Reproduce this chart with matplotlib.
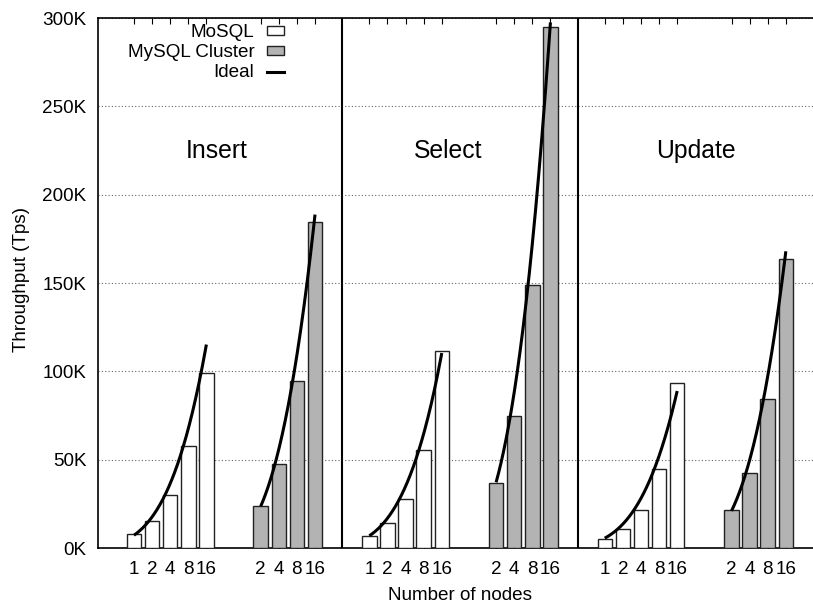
import math
import matplotlib
matplotlib.use("Agg")
import matplotlib.pyplot as plt
import numpy as np
from matplotlib.patches import Patch
from matplotlib.lines import Line2D

plt.rcParams["font.family"] = ["Liberation Sans", "DejaVu Sans"]

# data (throughput in K transactions/s)
ops = ["Insert", "Select", "Update"]
mosql_nodes = ["1", "2", "4", "8", "16"]
cluster_nodes = ["2", "4", "8", "16"]

mosql_insert = [7.9, 15.5, 29.8, 57.6, 98.9]
mosql_select = [6.6, 14.0, 27.6, 55.7, 111.7]
mosql_update = [4.9, 10.6, 21.5, 44.7, 93.2]

cluster_insert = [24.0, 47.7, 94.4, 184.6]
cluster_select = [36.8, 74.6, 148.9, 295.2]
cluster_update = [21.3, 42.5, 84.4, 163.5]

# ideal (linear scaling) values at each node count
ideal_mosql_insert = [7.2, 14.4, 28.8, 57.6, 115.2]
ideal_mosql_select = [6.9, 13.8, 27.6, 55.2, 110.4]
ideal_mosql_update = [5.56, 11.1, 22.2, 44.5, 88.9]
ideal_cluster_insert = [23.6, 47.2, 94.4, 188.8]
ideal_cluster_select = [37.2, 74.4, 148.8, 297.6]
ideal_cluster_update = [21.0, 42.0, 84.0, 168.0]

mosql_vals = [mosql_insert, mosql_select, mosql_update]
cluster_vals = [cluster_insert, cluster_select, cluster_update]
ideal_mosql = [ideal_mosql_insert, ideal_mosql_select, ideal_mosql_update]
ideal_cluster = [ideal_cluster_insert, ideal_cluster_select, ideal_cluster_update]


def bezier(xs, ys, n=200):
    # same as gnuplot "smooth bezier"
    xs, ys = np.asarray(xs, float), np.asarray(ys, float)
    deg = len(xs) - 1
    t = np.linspace(0, 1, n)
    bx = np.zeros_like(t)
    by = np.zeros_like(t)
    for k in range(deg + 1):
        b = math.comb(deg, k) * t**k * (1 - t) ** (deg - k)
        bx += b * xs[k]
        by += b * ys[k]
    return bx, by


fig = plt.figure(figsize=(8.13, 6.06), dpi=100)
ax = fig.add_axes([0.1202, 0.0957, 0.8798, 0.8743])

gray = "#b3b3b3"
bar_w = 0.8
fs = 13.6
xticks, xlabels = [], []
title_x = [4.56, 17.34, 31.04]

for g in range(3):
    off = 13 * g
    xm = off + np.arange(5)
    xc = off + 7 + np.arange(4)
    ax.bar(xm, mosql_vals[g], width=bar_w, color="white", edgecolor="#222222",
           linewidth=1.0, zorder=3)
    ax.bar(xc, cluster_vals[g], width=bar_w, color=gray, edgecolor="#222222",
           linewidth=1.0, zorder=3)
    bx, by = bezier(xm, ideal_mosql[g])
    ax.plot(bx, by, color="black", linewidth=2.2, zorder=4, solid_capstyle="butt")
    bx, by = bezier(xc, ideal_cluster[g])
    ax.plot(bx, by, color="black", linewidth=2.2, zorder=4, solid_capstyle="butt")
    xticks += list(xm) + list(xc)
    xlabels += mosql_nodes + cluster_nodes
    ax.text(title_x[g], 225, ops[g], ha="center", va="center", fontsize=17.8)

for sep in [11.5, 24.5]:
    ax.axvline(sep, color="black", linewidth=1.5, zorder=5)

ax.set_xlim(-2, 37.5)
ax.set_ylim(0, 300)
ax.set_yticks(np.arange(0, 301, 50))
ax.set_yticklabels([f"{v}K" for v in range(0, 301, 50)])
ax.set_xticks(xticks)
ax.set_xticklabels(xlabels)

ax.tick_params(axis="x", direction="in", length=4.5, width=0.8, top=True,
               labelsize=fs, pad=9.5)
ax.tick_params(axis="y", direction="in", length=0, labelsize=fs, pad=8)

ax.yaxis.grid(True, linestyle=(0, (1, 2)), color="#666666", linewidth=0.8, zorder=0)
ax.set_axisbelow(True)
ax.spines["right"].set_visible(False)
for s in ["left", "top", "bottom"]:
    ax.spines[s].set_linewidth(1.2)

ax.set_ylabel("Throughput (Tps)", fontsize=fs)
ax.yaxis.set_label_coords(-0.094, 0.506)
ax.set_xlabel("Number of nodes", fontsize=fs)
ax.xaxis.set_label_coords(0.5065, -0.073)

handles = [
    Patch(facecolor="white", edgecolor="#222222", linewidth=1.0),
    Patch(facecolor=gray, edgecolor="#222222", linewidth=1.0),
    Line2D([], [], color="black", linewidth=2.2),
]
ax.legend(handles, ["MoSQL", "MySQL Cluster", "Ideal"], loc="upper right",
          bbox_to_anchor=(0.263, 0.9925), frameon=False, markerfirst=False,
          fontsize=fs, handlelength=0.92, handleheight=0.35,
          handletextpad=0.65, labelspacing=0.17, borderpad=0.1,
          borderaxespad=0)

fig.savefig("out.png", dpi=100)
